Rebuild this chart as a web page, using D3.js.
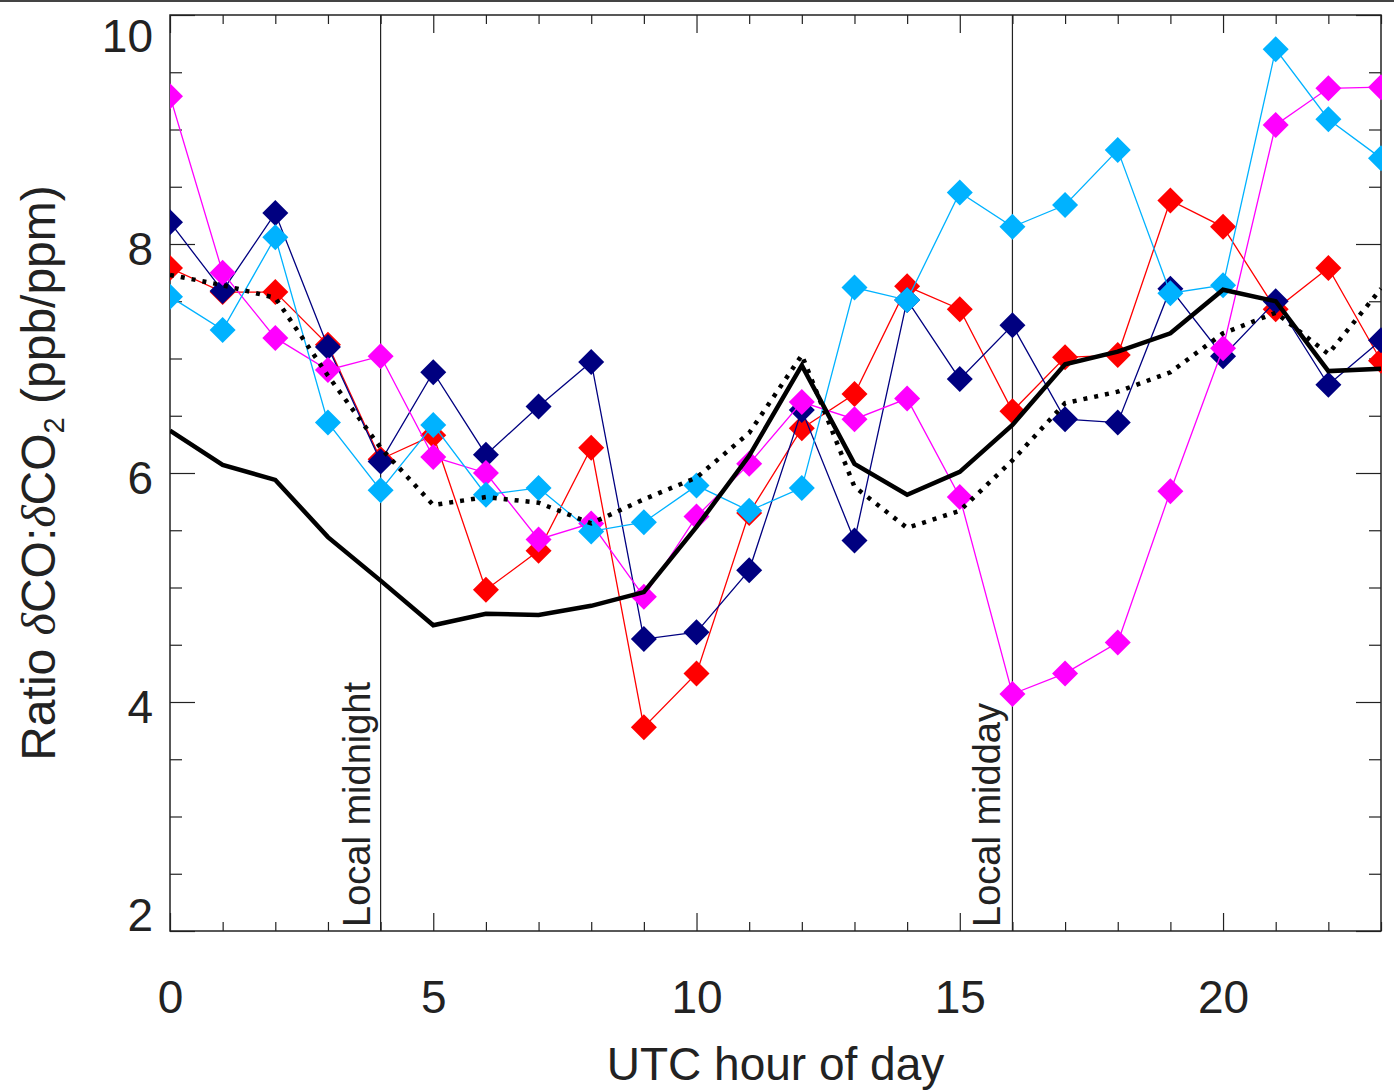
<!DOCTYPE html>
<html>
<head>
<meta charset="utf-8">
<script src="https://cdn.jsdelivr.net/npm/d3@7"></script>
<style>
  body { margin: 0; background: #fff; }
  svg { display: block; }
  text { font-family: "Liberation Sans", Arial, Helvetica, sans-serif; fill: #222; }
</style>
</head>
<body>
<div id="chart"></div>
<script>

// hours of the day (UTC)
var hours = [0, 1, 2, 3, 4, 5, 6, 7, 8, 9, 10, 11, 12, 13, 14, 15, 16, 17, 18, 19, 20, 21, 22, 23];

// ratio series, one value per hour
var navySeries    = [8.19, 7.59, 8.27, 7.10, 6.10, 6.88, 6.16, 6.58, 6.97, 4.55, 4.61, 5.15, 6.55, 5.41, 7.51, 6.82, 7.29, 6.47, 6.44, 7.61, 7.02, 7.50, 6.77, 7.16];
var redSeries     = [7.79, 7.58, 7.58, 7.12, 6.12, 6.33, 4.98, 5.32, 6.22, 3.78, 4.25, 5.65, 6.39, 6.69, 7.63, 7.43, 6.54, 7.01, 7.03, 8.38, 8.15, 7.43, 7.79, 6.98];
var magentaSeries = [9.29, 7.75, 7.18, 6.90, 7.02, 6.14, 6.00, 5.42, 5.56, 4.92, 5.62, 6.08, 6.62, 6.47, 6.65, 5.79, 4.07, 4.25, 4.52, 5.84, 7.09, 9.04, 9.36, 9.37];
var cyanSeries    = [7.54, 7.25, 8.06, 6.44, 5.85, 6.42, 5.81, 5.87, 5.49, 5.57, 5.89, 5.67, 5.87, 7.62, 7.51, 8.45, 8.15, 8.34, 8.82, 7.57, 7.64, 9.70, 9.09, 8.75];
var meanSolid     = [6.37, 6.07, 5.94, 5.44, 5.06, 4.67, 4.77, 4.76, 4.84, 4.96, 5.53, 6.15, 6.94, 6.08, 5.81, 6.01, 6.42, 6.95, 7.06, 7.22, 7.60, 7.50, 6.89, 6.91];
var meanDotted    = [7.73, 7.64, 7.53, 6.85, 6.22, 5.72, 5.79, 5.74, 5.56, 5.77, 5.96, 6.35, 7.03, 5.88, 5.52, 5.67, 6.11, 6.61, 6.71, 6.88, 7.22, 7.40, 7.04, 7.61];

// tick values
var xMajor = [0, 5, 10, 15, 20];
var xMinor = [1, 2, 3, 4, 6, 7, 8, 9, 11, 12, 13, 14, 16, 17, 18, 19, 21, 22, 23];
var yMajor = [2, 4, 6, 8, 10];
var yMinor = [2.5, 3, 3.5, 4.5, 5, 5.5, 6.5, 7, 7.5, 8.5, 9, 9.5];

// marker lines
var localMarks = [{hour: 4, label: "Local midnight", base: 370}, {hour: 16, label: "Local midday", base: 1000}];

var width = 1394, height = 1092;
var boxLeft = 170, boxRight = 1381, boxTop = 15, boxBottom = 931;

var svg = d3.select("#chart").append("svg")
    .attr("width", width)
    .attr("height", height);

// thin dark strip on the top edge
svg.append("rect")
    .attr("x", 0).attr("y", 0)
    .attr("width", width).attr("height", 2)
    .attr("fill", "#444");

var xScale = d3.scaleLinear().domain([0, 23]).range([boxLeft, boxRight]);
var yScale = d3.scaleLinear().domain([2, 10]).range([boxBottom, boxTop]);

// axes (ticks point inward, IDL style)
function cleanAxis(g) {
  g.select(".domain").remove();
  g.selectAll(".tick line").attr("stroke", "#222").attr("stroke-width", 1.2);
}

svg.append("g")
    .attr("transform", "translate(0," + boxBottom + ")")
    .call(d3.axisBottom(xScale).tickValues(xMajor).tickSize(-18).tickPadding(49).tickFormat(d3.format("d")))
    .call(cleanAxis)
    .selectAll("text")
    .attr("font-size", 46)
    .attr("font-family", "'Liberation Sans', Arial, sans-serif")
    .attr("fill", "#222");

svg.append("g")
    .attr("transform", "translate(0," + boxBottom + ")")
    .call(d3.axisBottom(xScale).tickValues(xMinor).tickSize(-9).tickFormat(""))
    .call(cleanAxis);

svg.append("g")
    .attr("transform", "translate(0," + boxTop + ")")
    .call(d3.axisTop(xScale).tickValues(xMajor).tickSize(-18).tickFormat(""))
    .call(cleanAxis);

svg.append("g")
    .attr("transform", "translate(0," + boxTop + ")")
    .call(d3.axisTop(xScale).tickValues(xMinor).tickSize(-9).tickFormat(""))
    .call(cleanAxis);

var yAxisG = svg.append("g")
    .attr("transform", "translate(" + boxLeft + ",0)")
    .call(d3.axisLeft(yScale).tickValues(yMajor).tickSize(-25).tickPadding(17).tickFormat(d3.format("d")))
    .call(cleanAxis);

// y labels sit a little below their ticks, end labels pulled inside the box
yAxisG.selectAll("text")
    .attr("font-size", 46)
    .attr("font-family", "'Liberation Sans', Arial, sans-serif")
    .attr("fill", "#222")
    .attr("y", function(d) {
      var c = Math.max(37, Math.min(916, yScale(d) + 6));
      return c - yScale(d);
    });

svg.append("g")
    .attr("transform", "translate(" + boxLeft + ",0)")
    .call(d3.axisLeft(yScale).tickValues(yMinor).tickSize(-12).tickFormat(""))
    .call(cleanAxis);

svg.append("g")
    .attr("transform", "translate(" + boxRight + ",0)")
    .call(d3.axisRight(yScale).tickValues(yMajor).tickSize(-25).tickFormat(""))
    .call(cleanAxis);

svg.append("g")
    .attr("transform", "translate(" + boxRight + ",0)")
    .call(d3.axisRight(yScale).tickValues(yMinor).tickSize(-12).tickFormat(""))
    .call(cleanAxis);

// plot frame
svg.append("rect")
    .attr("x", boxLeft).attr("y", boxTop)
    .attr("width", boxRight - boxLeft).attr("height", boxBottom - boxTop)
    .attr("fill", "none")
    .attr("stroke", "#222")
    .attr("stroke-width", 1.5);

// local midnight / midday markers
localMarks.forEach(function(m) {
  svg.append("line")
      .attr("x1", xScale(m.hour)).attr("x2", xScale(m.hour))
      .attr("y1", boxTop).attr("y2", boxBottom)
      .attr("stroke", "#222")
      .attr("stroke-width", 1.2);
  svg.append("text")
      .attr("transform", "translate(" + m.base + "," + (boxBottom - 4) + ") rotate(-90)")
      .attr("font-size", 38)
      .attr("text-anchor", "start")
      .text(m.label);
});

// clip the data to the box (markers at the edges are cut by the frame)
svg.append("clipPath").attr("id", "box")
  .append("rect")
    .attr("x", boxLeft).attr("y", boxTop)
    .attr("width", boxRight - boxLeft + 1).attr("height", boxBottom - boxTop);

var plot = svg.append("g").attr("clip-path", "url(#box)");

var line = d3.line()
    .x(function(d, i) { return xScale(hours[i]); })
    .y(function(d) { return yScale(d); });

var diamond = "M0,-13L13,0L0,13L-13,0Z";

var series = [
  {values: redSeries, color: "#ff0000"},
  {values: navySeries, color: "#000080"},
  {values: magentaSeries, color: "#ff00ff"},
  {values: cyanSeries, color: "#00b2ff"}
];

series.forEach(function(s) {
  var g = plot.append("g");
  g.append("path")
      .attr("d", line(s.values))
      .attr("fill", "none")
      .attr("stroke", s.color)
      .attr("stroke-width", 1.3);
  g.selectAll("path.pt")
      .data(s.values)
    .enter().append("path")
      .attr("class", "pt")
      .attr("d", diamond)
      .attr("transform", function(d, i) {
        return "translate(" + xScale(hours[i]) + "," + yScale(d) + ")";
      })
      .attr("fill", s.color);
});

plot.append("path")
    .attr("d", line(meanDotted))
    .attr("fill", "none")
    .attr("stroke", "#000")
    .attr("stroke-width", 4.5)
    .attr("stroke-dasharray", "4,7");

plot.append("path")
    .attr("d", line(meanSolid))
    .attr("fill", "none")
    .attr("stroke", "#000")
    .attr("stroke-width", 4.5)
    .attr("stroke-linejoin", "miter");

// axis titles
svg.append("text")
    .attr("x", (boxLeft + boxRight) / 2)
    .attr("y", 1080)
    .attr("text-anchor", "middle")
    .attr("font-size", 46)
    .text("UTC hour of day");

var yTitle = svg.append("text")
    .attr("transform", "translate(55," + (boxTop + boxBottom) / 2 + ") rotate(-90)")
    .attr("text-anchor", "middle")
    .attr("font-size", 48);
yTitle.append("tspan").text("Ratio ");
yTitle.append("tspan").attr("font-family", "'Liberation Serif', 'DejaVu Serif', serif").attr("font-style", "italic").text("\u03b4");
yTitle.append("tspan").text("CO:");
yTitle.append("tspan").attr("font-family", "'Liberation Serif', 'DejaVu Serif', serif").attr("font-style", "italic").text("\u03b4");
yTitle.append("tspan").text("CO");
yTitle.append("tspan").attr("font-size", 29).attr("dy", 9).text("2");
yTitle.append("tspan").attr("dy", -9).text(" (ppb/ppm)");

</script>
</body>
</html>
